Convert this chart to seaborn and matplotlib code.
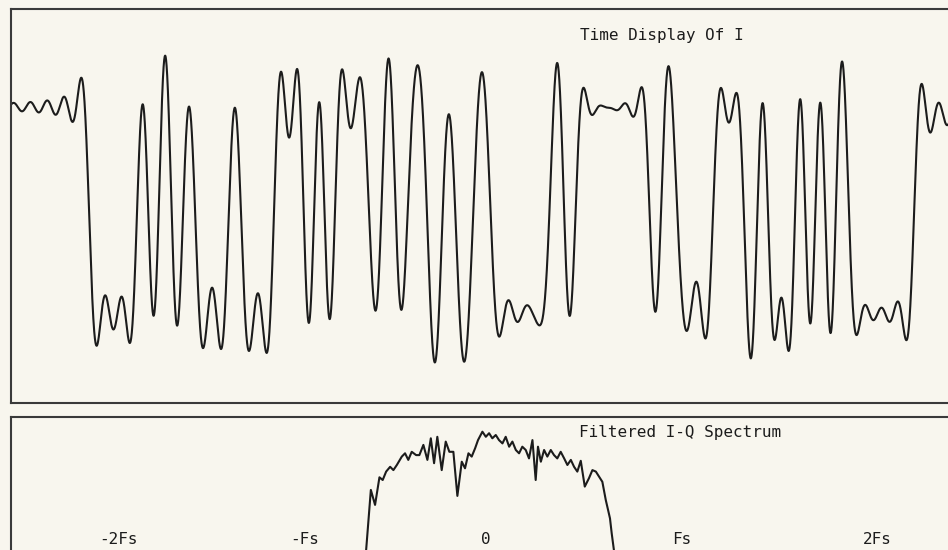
import numpy as np
import matplotlib
matplotlib.use("Agg")
import matplotlib.pyplot as plt
import pandas as pd
import seaborn as sns

# I channel: transition instants (us) of the multi-level NRZ stream and the
# level held in each interval (one more level than transitions)
edge_times = [7.80, 12.55, 13.70, 14.80, 16.05, 17.25, 18.45, 21.75, 23.05, 26.30,
              29.25, 30.30, 31.35, 32.45, 35.70, 37.10, 38.40, 39.80, 41.55, 43.15,
              44.50, 46.20, 48.00, 53.75, 55.35, 56.55, 63.75, 65.05, 66.65, 70.25,
              73.20, 74.65, 75.80, 78.40, 79.40, 80.40, 81.35, 82.55, 83.85, 90.30]
levels = [1.03, -0.97, 0.67, -0.56, 0.98, -0.65, 0.71, -0.97, 0.68, -1.01,
          1.01, -0.66, 0.66, -0.62, 1.05, -0.56, 1.04, -0.52, 1.10, -0.95,
          0.63, -1.03, 0.94, -0.96, 0.89, -0.63, 1.02, -0.55, 0.97, -0.88,
          0.99, -0.83, 0.63, -0.99, 0.75, -0.66, 0.66, -0.57, 0.95, -0.97, 0.95]
cutoff_mhz = 0.6        # low-pass band edge
edge_boost = 0.5        # quadratic passband lift towards the band edge

# Filtered I-Q spectrum (frequency in units of Fs, level in dB)
spec_freq = [-0.621, -0.577, -0.555, -0.532, -0.515, -0.497, -0.476, -0.459,
             -0.441, -0.415, -0.398, -0.381, -0.363, -0.340, -0.323, -0.302,
             -0.281, -0.263, -0.246, -0.229, -0.206, -0.185, -0.166, -0.145,
             -0.124, -0.101, -0.084, -0.066, -0.049, -0.031, -0.016, 0.007,
             0.025, 0.042, 0.059, 0.077, 0.094, 0.112, 0.129, 0.147, 0.164,
             0.182, 0.199, 0.216, 0.234, 0.251, 0.269, 0.286, 0.298, 0.313,
             0.330, 0.347, 0.365, 0.382, 0.399, 0.417, 0.435, 0.452, 0.470,
             0.487, 0.504, 0.522, 0.543, 0.565, 0.583, 0.601, 0.618, 0.635,
             0.653, 0.665, 0.675, 0.684, 0.728]
spec_db = [-60, -24.3, -29.3, -20.1, -21.0, -18.2, -16.6, -17.7, -16.0, -13.2,
           -12.1, -14.3, -11.6, -12.7, -12.7, -9.3, -14.3, -7.1, -15.4, -6.6,
           -17.7, -8.2, -11.6, -11.6, -26.3, -14.9, -17.1, -12.1, -13.2, -10.4,
           -7.7, -4.9, -6.6, -5.4, -7.1, -6.0, -7.7, -8.8, -6.6, -9.9, -8.2,
           -11.0, -12.1, -9.9, -11.0, -13.8, -7.7, -21.0, -9.9, -14.9, -11.0,
           -13.2, -11.0, -12.7, -13.8, -11.6, -13.8, -16.0, -14.3, -16.6, -18.2,
           -14.6, -23.2, -20.4, -17.7, -18.2, -19.9, -21.6, -27.7, -31.0, -33.8,
           -38.8, -60]
freq_ticks = [-2, -1, 0, 1, 2]
freq_tick_labels = ["-2Fs", "-Fs", "0", "Fs", "2Fs"]

# --- band-limit the NRZ stream ------------------------------------------
dt = 0.01
t = np.arange(-100.0, 200.0, dt)
seg_index = np.searchsorted(edge_times, t, side="right")
nrz = np.asarray(levels)[seg_index]
spectrum = np.fft.rfft(nrz)
freqs = np.fft.rfftfreq(t.size, dt)
response = np.where(freqs <= cutoff_mhz,
                    1.0 + edge_boost * (freqs / cutoff_mhz) ** 2, 0.0)
i_wave = np.fft.irfft(spectrum * response, n=t.size)
keep = (t >= 0.0) & (t <= 97.0)
time_df = pd.DataFrame({"t": t[keep], "I": i_wave[keep]})
spec_df = pd.DataFrame({"f": spec_freq, "dB": spec_db})

# --- styling ------------------------------------------------------------
paper = "#f8f6ee"
ink = "#1c1c1c"
frame = "#3a3a3a"
sns.set_theme(style="white", rc={"figure.facecolor": paper,
                                 "axes.facecolor": paper,
                                 "axes.edgecolor": frame})
plt.rcParams["font.family"] = ["DejaVu Sans Mono", "DejaVu Sans"]
label_size = 11.5

W, H = 948, 550
fig = plt.figure(figsize=(W / 100, H / 100), dpi=100)
ax_t = fig.add_axes([11 / W, 1 - 403 / H, 964 / W, 394 / H])
ax_s = fig.add_axes([11 / W, 1 - 600 / H, 964 / W, 183 / H])

sns.lineplot(data=time_df, x="t", y="I", ax=ax_t, color=ink, lw=1.5,
             estimator=None, sort=False)
ax_t.set_xlim(0.0, 96.4)
ax_t.set_ylim(-1.831, 1.976)
ax_t.text(0.590, 0.934, "Time Display Of I", transform=ax_t.transAxes,
          ha="left", va="center", fontsize=label_size, color=ink)

sns.lineplot(data=spec_df, x="f", y="dB", ax=ax_s, color=ink, lw=1.5,
             estimator=None, sort=False)
ax_s.set_xlim(-2.461, 2.586)
ax_s.set_ylim(-61.0, 0.0)
ax_s.text(0.589, 0.918, "Filtered I-Q Spectrum", transform=ax_s.transAxes,
          ha="left", va="center", fontsize=label_size, color=ink)
for pos, lab in zip(freq_ticks, freq_tick_labels):
    ax_s.text(pos, -41.0, lab, ha="left", va="center", fontsize=label_size,
              color=ink)

for ax in (ax_t, ax_s):
    ax.set_xticks([])
    ax.set_yticks([])
    ax.set_xlabel("")
    ax.set_ylabel("")
    for sp in ax.spines.values():
        sp.set_linewidth(1.5)
        sp.set_color(frame)

fig.savefig("out.png", dpi=100, facecolor=paper)
